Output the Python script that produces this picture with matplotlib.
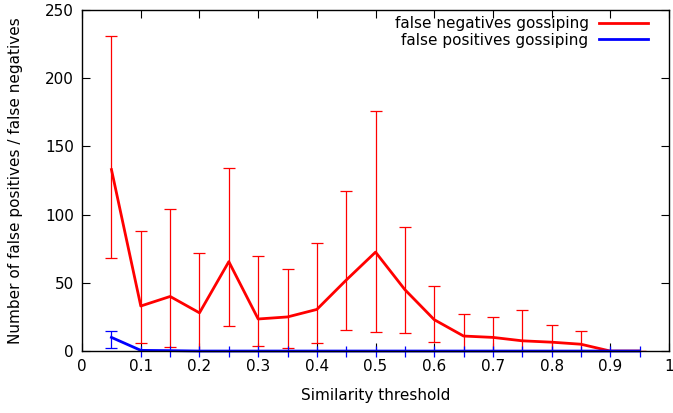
import numpy as np
import matplotlib
matplotlib.use('Agg')
import matplotlib.pyplot as plt

# similarity thresholds
x = [0.05, 0.1, 0.15, 0.2, 0.25, 0.3, 0.35, 0.4, 0.45, 0.5,
     0.55, 0.6, 0.65, 0.7, 0.75, 0.8, 0.85, 0.9, 0.95]

# false negatives: mean, low, high
fn = [133, 33, 40, 28, 65.5, 23.5, 25, 30.5, 52, 72.5,
      45, 23, 11, 10, 7.5, 6.5, 5, 0, 0]
fn_low = [68, 5.8, 3, 0, 18, 3.7, 2.5, 5.6, 15.4, 13.7,
          13, 6.8, 0, 0, 0, 0, 0, 0, 0]
fn_high = [231, 88, 104, 71.6, 134, 70, 60, 79, 117, 176,
           91, 48, 27, 25, 30, 19, 15, 0, 0]

# false positives: mean, low, high
fp = [10, 0.5, 0.3, 0, 0, 0, 0, 0, 0, 0,
      0, 0, 0, 0, 0, 0, 0, 0, 0]
fp_low = [2.5, -4, -4, -4, -4, -4, -4, -4, -4, -4,
          -4, -4, -4, -4, -4, -4, -4, -4, -4]
fp_high = [14.7, 4, 4, 4, 4, 4, 4, 4, 4, 4,
           4, 4, 4, 4, 4, 4, 4, 4, 4]

plt.rcParams['font.family'] = 'DejaVu Sans'

fig = plt.figure(figsize=(6.73, 4.13), dpi=100)
ax = fig.add_axes([0.122, 0.15, 0.872, 0.826])

fn = np.array(fn)
fp = np.array(fp)
fn_err = [fn - np.array(fn_low), np.array(fn_high) - fn]
fp_err = [fp - np.array(fp_low), np.array(fp_high) - fp]

ax.errorbar(x, fn, yerr=fn_err, color='#ff0000', ecolor='#ff0000',
            elinewidth=0.9, capsize=4, capthick=0.9, lw=0)
ax.plot(x, fn, color='#ff0000', lw=2, label='false negatives gossiping')

# first blue point has visible caps, the rest are plain vertical bars
eb1 = ax.errorbar(x[:1], fp[:1], yerr=[e[:1] for e in fp_err], color='#0000ff',
                  ecolor='#0000ff', elinewidth=0.9, capsize=4, capthick=0.9, lw=0)
eb2 = ax.errorbar(x[1:], fp[1:], yerr=[e[1:] for e in fp_err], color='#0000ff',
                  ecolor='#0000ff', elinewidth=0.9, capsize=0, lw=0)
for eb in (eb1, eb2):
    for part in list(eb.lines[1]) + list(eb.lines[2]):
        part.set_clip_on(False)
ax.plot(x, fp, color='#0000ff', lw=2, label='false positives gossiping', clip_on=False)

ax.set_xlim(0, 1)
ax.set_ylim(0, 250)
ax.set_xticks(np.arange(0, 1.01, 0.1))
ax.set_xticklabels(['0', '0.1', '0.2', '0.3', '0.4', '0.5', '0.6', '0.7', '0.8', '0.9', '1'])
ax.set_yticks(np.arange(0, 251, 50))
ax.tick_params(direction='in', top=True, right=True, length=6, width=0.8,
               labelsize=11, pad=6)
for s in ax.spines.values():
    s.set_linewidth(1)

ax.set_xlabel('Similarity threshold', fontsize=11, labelpad=10)
ax.set_ylabel('Number of false positives / false negatives', fontsize=11, labelpad=16)

ax.legend(loc='upper right', frameon=False, markerfirst=False, fontsize=11,
          handlelength=3.2, handletextpad=0.7, borderaxespad=0.0,
          bbox_to_anchor=(0.975, 1.0), labelspacing=0.1)
for t in ax.get_legend().get_texts():
    t.set_ha('right')

fig.savefig('out.png', dpi=100)
